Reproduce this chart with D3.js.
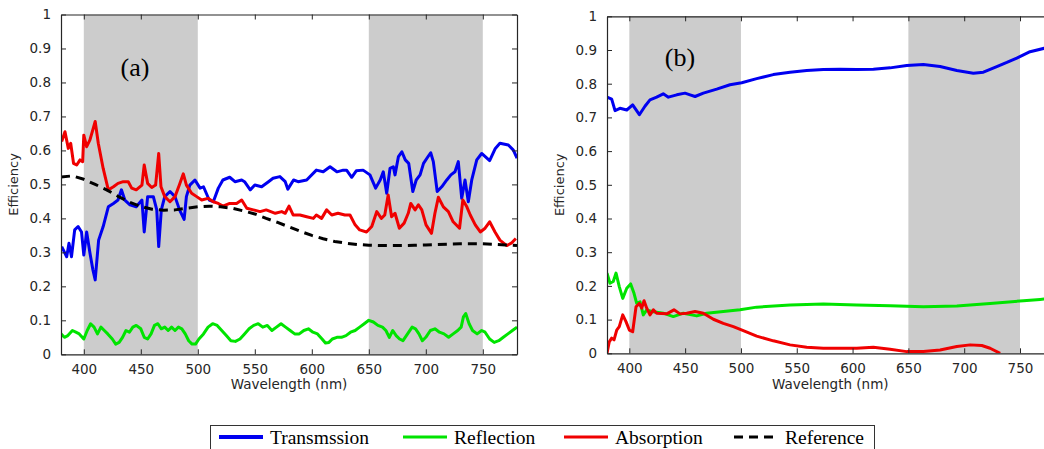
<!DOCTYPE html>
<html><head><meta charset="utf-8">
<script src="https://cdn.jsdelivr.net/npm/d3@7"></script>
<style>body{margin:0;background:#fff;overflow:hidden}</style>
</head><body>
<svg id="c" width="1044" height="449"></svg>
<script>
// ---------- DATA ----------
const xTicks = [400,450,500,550,600,650,700,750];
const yTicks = [0,0.1,0.2,0.3,0.4,0.5,0.6,0.7,0.8,0.9,1];
const yTickLabels = ["0","0.1","0.2","0.3","0.4","0.5","0.6","0.7","0.8","0.9","1"];
const bands = [[400,500],[650,750]];
const seriesNames = ["Transmssion","Reflection","Absorption","Reference"];
const panelLabels = ["(a)","(b)"];

// Panel (a)
const aTransNm  = [380.6,385,387,389.2,392,395,398,400,402.5,405.4,408,410,413,417,421.5,426,430,433,436,440.5,446,451,453,456,461,464,465.7,468,471,475.6,480,484,488,490,493,497.5,502,505,510,513.6,518,522,528,532.6,538.5,541,546,550,556,562,566,572,576.7,579,584,588,595.5,604,610,616,622,627.6,630.5,635,639,645,651,656,660,662.7,665.7,668.6,671.5,673,676,679,682,685,688.6,691.6,695,698,702,704.3,706.6,710,714,718.4,722,725.6,728.5,731.5,734.4,737.3,740.3,744.7,749,756,761,765,772.4,776.8,780];
const aTransVal = [0.317,0.287,0.327,0.287,0.366,0.376,0.36,0.292,0.36,0.298,0.248,0.219,0.336,0.376,0.434,0.444,0.454,0.484,0.454,0.44,0.434,0.454,0.36,0.464,0.464,0.425,0.317,0.425,0.464,0.479,0.464,0.425,0.397,0.464,0.498,0.513,0.489,0.493,0.454,0.449,0.489,0.513,0.521,0.508,0.513,0.508,0.484,0.498,0.493,0.508,0.518,0.523,0.508,0.486,0.513,0.508,0.513,0.542,0.537,0.552,0.537,0.542,0.542,0.521,0.540,0.542,0.528,0.489,0.513,0.537,0.474,0.547,0.552,0.528,0.582,0.596,0.572,0.562,0.479,0.513,0.528,0.562,0.582,0.593,0.567,0.479,0.493,0.513,0.528,0.537,0.567,0.459,0.513,0.449,0.513,0.572,0.591,0.570,0.606,0.621,0.616,0.601,0.577];

const aReflNm  = [380,383,386,390,393,396,400,403,406,409,412,415,418,421,425,428,431,434,437,440,443,446,450,453,456,459,462,465,468,471,474,477,480,483,486,489,492,495,498,501,505,509,513,517,521,525,529,533,537,541,545,549,553,557,561,565,569,573,577,581,585,589,593,597,601,605,609,612,615,618,622,626,630,634,638,642,646,650,654,658,662,665,668,671,674,677,680,684,688,691,694,697,700,704,708,712,716,720,724,728,731,733,735,738,741,745,749,752,756,760,764,768,772,776,780];
const aReflVal = [0.06,0.05,0.055,0.07,0.065,0.06,0.045,0.07,0.09,0.08,0.06,0.08,0.07,0.06,0.045,0.03,0.035,0.05,0.07,0.065,0.08,0.085,0.075,0.05,0.045,0.06,0.085,0.09,0.075,0.08,0.07,0.08,0.07,0.08,0.075,0.06,0.04,0.03,0.03,0.045,0.06,0.08,0.09,0.085,0.07,0.055,0.04,0.038,0.045,0.06,0.075,0.085,0.09,0.08,0.085,0.07,0.08,0.09,0.08,0.07,0.06,0.06,0.07,0.075,0.065,0.06,0.045,0.033,0.035,0.045,0.05,0.05,0.055,0.065,0.07,0.08,0.09,0.1,0.095,0.085,0.08,0.07,0.05,0.07,0.055,0.045,0.04,0.06,0.08,0.075,0.06,0.04,0.05,0.07,0.075,0.065,0.06,0.05,0.06,0.07,0.08,0.11,0.12,0.09,0.07,0.06,0.07,0.065,0.045,0.035,0.04,0.05,0.06,0.07,0.08];

const aAbsNm  = [380.6,383.5,386.4,388.5,391,393.8,396.7,399,400,402.5,405.4,410,412.7,417,421.5,426,430,434.6,439,442,446,451,453,456,459.6,463,465.7,467.7,471,475.6,480,483.8,487.3,490,494.6,499,503.4,509,513.6,518,522,528,534,538.5,543,548.7,554.6,560,568,573.6,576.7,580,583.6,589.6,595.5,601.4,604,608.6,613,617.5,623,629,633.5,638,642,648,652.6,657,661,664,667,670,673,676.8,681,684.6,686.8,690.6,693.5,696.5,700.2,705,708,711,715.4,719.8,724,729.6,732.5,736,739,743.4,747.8,752,756,760.7,765,771,775,779];
const aAbsVal = [0.626,0.655,0.606,0.621,0.562,0.557,0.572,0.567,0.645,0.611,0.631,0.685,0.621,0.547,0.484,0.493,0.503,0.508,0.508,0.489,0.484,0.498,0.557,0.503,0.491,0.498,0.591,0.493,0.464,0.449,0.464,0.498,0.531,0.498,0.474,0.464,0.454,0.459,0.449,0.444,0.436,0.444,0.444,0.454,0.43,0.425,0.42,0.425,0.415,0.42,0.415,0.436,0.41,0.41,0.405,0.40,0.41,0.40,0.425,0.41,0.415,0.41,0.41,0.381,0.366,0.36,0.376,0.42,0.40,0.41,0.469,0.405,0.415,0.371,0.386,0.415,0.444,0.425,0.44,0.425,0.381,0.356,0.415,0.462,0.434,0.42,0.39,0.371,0.454,0.434,0.41,0.381,0.36,0.371,0.39,0.36,0.336,0.32,0.327,0.341];

const aRefNm  = [380,390,400,410,420,430,440,450,460,470,480,490,500,510,520,530,540,550,560,570,580,590,600,610,620,630,640,650,660,670,680,690,700,710,720,730,740,750,760,770,780];
const aRefVal = [0.522,0.525,0.515,0.50,0.484,0.465,0.448,0.435,0.427,0.424,0.425,0.43,0.434,0.436,0.434,0.43,0.422,0.413,0.40,0.388,0.375,0.362,0.35,0.34,0.332,0.327,0.323,0.321,0.32,0.32,0.32,0.321,0.322,0.323,0.324,0.325,0.325,0.325,0.324,0.322,0.32];

// Panel (b)
const bTransNm  = [380,384.2,387.2,391.6,397.7,403,409,414,418.5,424.5,430.4,435,442.5,449.9,454.4,458.9,466.3,478.3,490.2,500.7,514.1,529,544,558.9,573.8,588.8,603.7,618.6,633.6,648.5,663.4,678.4,693.4,708.2,717.2,729.2,738.2,747.1,759,771.6,780];
const bTransVal = [0.760,0.754,0.72,0.727,0.722,0.737,0.708,0.733,0.752,0.760,0.770,0.760,0.767,0.772,0.767,0.762,0.772,0.784,0.797,0.803,0.815,0.827,0.834,0.839,0.842,0.843,0.842,0.843,0.847,0.854,0.857,0.851,0.839,0.831,0.834,0.851,0.863,0.876,0.895,0.905,0.908];

const bReflNm  = [380,382.7,385.6,388.1,391,394.1,397.7,401.2,404.2,406.6,409.6,412.5,415.6,420,430.4,439.4,448.4,460.4,469.3,484.2,499.2,514.1,544,573.8,603.7,633.6,663.4,693.4,723.2,753,768,780];
const bReflVal = [0.238,0.208,0.213,0.238,0.198,0.163,0.193,0.206,0.178,0.148,0.153,0.114,0.129,0.124,0.119,0.109,0.119,0.111,0.119,0.124,0.129,0.137,0.143,0.146,0.143,0.141,0.138,0.140,0.148,0.156,0.160,0.163];

const bAbsNm  = [380,382,384.2,386.3,388.7,391,394.1,397,400,403,406,408.9,411.1,413.2,415.6,418.5,421.5,424.5,433.5,440,445.4,451.4,458.9,466.3,475.3,484.2,493.2,502.1,514.1,529,544,558.9,573.8,588.8,603.7,618.6,633.6,648.5,663.4,678.4,693.4,705.3,715.8,723.2,732.2];
const bAbsVal = [0.0,0.034,0.045,0.04,0.069,0.079,0.114,0.094,0.069,0.064,0.138,0.148,0.134,0.156,0.134,0.114,0.129,0.119,0.117,0.129,0.117,0.119,0.124,0.119,0.101,0.089,0.079,0.067,0.051,0.037,0.025,0.018,0.015,0.015,0.015,0.018,0.012,0.005,0.005,0.01,0.02,0.025,0.023,0.015,0.0];

const colors = ["#0000f0","#00e400","#f00000","#000000"];

// ---------- DRAW ----------
const svg = d3.select("#c");
const zip = (a,b)=>a.map((v,i)=>[v,b[i]]);

const panels = [
  {x0:61, x1:517, y0:354.3, y1:14.5, ylabX:18,
   series:[[aTransNm,aTransVal,0],[aReflNm,aReflVal,1],[aAbsNm,aAbsVal,2],[aRefNm,aRefVal,3]],
   label:panelLabels[0], lx:135, ly:76},
  {x0:607, x1:1053.5, y0:353.3, y1:16.3, ylabX:564,
   series:[[bTransNm,bTransVal,0],[bReflNm,bReflVal,1],[bAbsNm,bAbsVal,2]],
   label:panelLabels[1], lx:680, ly:66}
];

panels.forEach((p,pi)=>{
  const x = d3.scaleLinear().domain([380,780]).range([p.x0,p.x1]);
  const y = d3.scaleLinear().domain([0,1]).range([p.y0,p.y1]);
  const g = svg.append("g");
  const cid = "clip"+pi;
  svg.append("defs").append("clipPath").attr("id",cid)
    .append("rect").attr("x",p.x0).attr("y",p.y1).attr("width",p.x1-p.x0).attr("height",p.y0-p.y1);

  // shaded bands
  g.selectAll("rect.band").data(bands).enter().append("rect")
    .attr("x",d=>x(d[0])).attr("width",d=>x(d[1])-x(d[0]))
    .attr("y",y(1)).attr("height",y(0)-y(1)).attr("fill","#cccccc");

  // lines
  const line = d3.line().x(d=>x(d[0])).y(d=>y(d[1]));
  const lg = g.append("g").attr("clip-path",`url(#${cid})`);
  p.series.forEach(s=>{
    lg.append("path").datum(zip(s[0],s[1])).attr("d",line)
      .attr("fill","none").attr("stroke",colors[s[2]])
      .attr("stroke-width",3).attr("stroke-linejoin","round")
      .attr("stroke-dasharray", s[2]===3 ? "9,6" : null);
  });

  // frame + axes with inner ticks
  const axCol = "#262626";
  const axB = g.append("g").attr("transform",`translate(0,${p.y0})`)
    .call(d3.axisBottom(x).tickValues(xTicks).tickSizeInner(-5).tickSizeOuter(0).tickPadding(10));
  const axT = g.append("g").attr("transform",`translate(0,${p.y1})`)
    .call(d3.axisTop(x).tickValues(xTicks).tickSizeInner(-5).tickSizeOuter(0).tickFormat(""));
  const axL = g.append("g").attr("transform",`translate(${p.x0},0)`)
    .call(d3.axisLeft(y).tickValues(yTicks).tickSizeInner(-5).tickSizeOuter(0).tickPadding(10)
      .tickFormat((d,i)=>yTickLabels[i]));
  const axR = g.append("g").attr("transform",`translate(${p.x1},0)`)
    .call(d3.axisRight(y).tickValues(yTicks).tickSizeInner(-5).tickSizeOuter(0).tickFormat(""));
  [axB,axT,axL,axR].forEach(a=>{
    a.selectAll("path.domain").attr("stroke",axCol).attr("stroke-width",1.2);
    a.selectAll("line").attr("stroke",axCol);
    a.selectAll("text").attr("fill","#262626").style("font-family","'DejaVu Sans'").style("font-size","13.5px");
  });

  // axis titles
  g.append("text").attr("x",(p.x0+p.x1)/2).attr("y",389)
    .attr("text-anchor","middle").attr("fill","#262626")
    .style("font-family","'DejaVu Sans'").style("font-size","13.5px").text("Wavelength (nm)");
  g.append("text").attr("transform",`translate(${p.ylabX},${(p.y0+p.y1)/2}) rotate(-90)`)
    .attr("text-anchor","middle").attr("fill","#262626")
    .style("font-family","'DejaVu Sans'").style("font-size","13px").text("Efficiency");

  // panel label
  g.append("text").attr("x",p.lx).attr("y",p.ly).attr("text-anchor","middle")
    .style("font-family","'Liberation Serif'").style("font-size","26px").attr("fill","#000").text(p.label);
});

// legend
const leg = svg.append("g");
leg.append("rect").attr("x",210.5).attr("y",425.5).attr("width",664).attr("height",40)
  .attr("fill","#fff").attr("stroke","#333").attr("stroke-width",1);
const legX = [219, 403, 564, 734];
seriesNames.forEach((n,i)=>{
  leg.append("line").attr("x1",legX[i]).attr("x2",legX[i]+44).attr("y1",437).attr("y2",437)
    .attr("stroke",colors[i]).attr("stroke-width", i===0?4:3)
    .attr("stroke-dasharray", i===3 ? "9,6" : null);
  leg.append("text").attr("x",legX[i]+51).attr("y",444)
    .style("font-family","'Liberation Serif'").style("font-size","19.5px").attr("fill","#000").text(n);
});
</script>
</body></html>
